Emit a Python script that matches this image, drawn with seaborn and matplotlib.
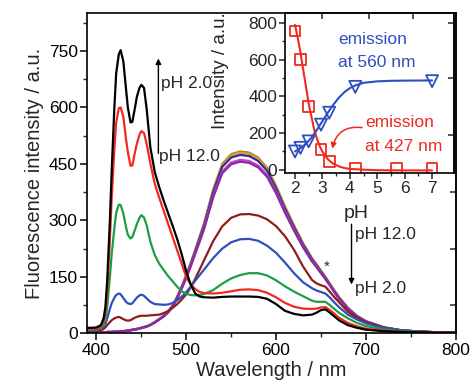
import matplotlib
matplotlib.use("Agg")
import matplotlib.pyplot as plt
import seaborn as sns
import pandas as pd

# ---------------- data ----------------
wavelength = [390, 395, 400, 405, 408, 410, 412, 415, 417, 420,
              422, 425, 427, 430, 433, 435, 438, 440, 443, 445,
              448, 450, 453, 456, 460, 465, 470, 475, 480, 485,
              490, 495, 500, 505, 510, 515, 520, 530, 540, 550,
              560, 570, 580, 590, 600, 610, 620, 630, 640, 645,
              650, 655, 660, 665, 670, 680, 690, 700, 720, 740,
              760, 780, 800]

black = [15, 15, 16, 22, 40, 70, 140, 300, 430, 600,
         690, 742, 752, 722, 648, 600, 560, 562, 600, 628,
         652, 660, 652, 595, 495, 428, 388, 352, 318, 285,
         250, 210, 165, 130, 106, 98, 96, 95, 97, 98,
         98, 98, 97, 92, 78, 60, 52, 48, 50, 55,
         62, 64, 55, 45, 35, 22, 15, 10, 6, 4,
         3, 2, 2]

red = [12, 12, 13, 18, 32, 55, 110, 250, 360, 490,
       560, 598, 600, 575, 515, 482, 445, 446, 482, 503,
       528, 537, 532, 503, 452, 397, 360, 325, 290, 255,
       220, 185, 150, 130, 118, 110, 107, 106, 108, 112,
       116, 117, 115, 108, 96, 81, 71, 66, 65, 66,
       69, 70, 62, 52, 42, 28, 19, 13, 7, 4,
       3, 3, 2]

green = [10, 10, 11, 14, 22, 35, 70, 150, 210, 280,
         320, 342, 341, 318, 282, 262, 252, 256, 276, 290,
         307, 314, 308, 287, 244, 208, 185, 168, 152, 138,
         124, 112, 105, 102, 101, 102, 105, 115, 132, 146,
         155, 160, 160, 154, 141, 125, 111, 99, 87, 84,
         84, 84, 75, 65, 55, 40, 28, 20, 10, 6,
         4, 3, 2]

blue = [8, 8, 9, 12, 18, 25, 40, 65, 80, 95,
        102, 106, 104, 94, 84, 80, 78, 80, 89, 95,
        101, 103, 100, 93, 84, 78, 77, 76, 77, 81,
        88, 98, 110, 124, 140, 155, 170, 200, 225, 242,
        250, 251, 246, 233, 214, 188, 160, 136, 120, 114,
        110, 106, 95, 82, 70, 50, 37, 27, 14, 8,
        5, 3, 2]

wine = [5, 5, 6, 8, 12, 16, 22, 30, 35, 40,
        42, 44, 42, 38, 35, 34, 35, 38, 42, 44,
        46, 47, 47, 47, 48, 49, 50, 54, 60, 68,
        78, 90, 104, 122, 145, 170, 195, 245, 284, 307,
        316, 317, 313, 303, 285, 258, 222, 178, 142, 133,
        128, 124, 110, 96, 83, 58, 41, 30, 15, 8,
        5, 3, 2]

olive = [3, 3, 3, 3, 3, 3, 4, 4, 4, 5,
         5, 5, 6, 6, 7, 8, 9, 10, 11, 12,
         14, 15, 17, 19, 23, 30, 38, 47, 58, 75,
         98, 125, 155, 187, 222, 258, 294, 382, 450, 476,
         483, 480, 467, 440, 392, 337, 287, 240, 200, 184,
         167, 150, 132, 114, 97, 68, 47, 33, 16, 8,
         5, 3, 2]

orange = [3, 3, 3, 3, 3, 3, 4, 4, 4, 5,
          5, 5, 6, 6, 7, 8, 9, 10, 11, 12,
          14, 15, 17, 19, 23, 30, 38, 47, 58, 75,
          97, 124, 154, 186, 221, 256, 292, 380, 447, 473,
          480, 477, 464, 437, 390, 335, 285, 238, 199, 183,
          166, 149, 131, 113, 96, 67, 46, 32, 16, 8,
          5, 3, 2]

navy = [3, 3, 3, 3, 3, 3, 4, 4, 4, 5,
        5, 5, 6, 6, 7, 8, 9, 10, 11, 12,
        14, 15, 17, 19, 23, 30, 38, 47, 58, 74,
        96, 123, 152, 184, 218, 253, 288, 375, 442, 467,
        474, 471, 458, 432, 385, 331, 282, 236, 197, 181,
        164, 148, 130, 112, 95, 67, 46, 32, 16, 8,
        5, 3, 2]

magenta = [3, 3, 3, 3, 3, 3, 4, 4, 4, 5,
           5, 5, 5, 6, 7, 7, 8, 9, 10, 11,
           13, 14, 16, 18, 22, 29, 37, 45, 56, 72,
           94, 120, 149, 180, 213, 247, 281, 365, 430, 454,
           461, 458, 446, 421, 376, 324, 276, 231, 193, 178,
           161, 145, 128, 110, 93, 66, 45, 32, 16, 8,
           5, 3, 2]

purple = [3, 3, 3, 3, 3, 3, 4, 4, 4, 5,
          5, 5, 5, 6, 7, 7, 8, 9, 10, 11,
          13, 14, 16, 18, 22, 29, 37, 45, 56, 72,
          93, 119, 147, 178, 211, 244, 278, 361, 425, 449,
          456, 453, 441, 416, 372, 320, 273, 229, 191, 176,
          160, 144, 127, 109, 92, 65, 45, 31, 16, 8,
          5, 3, 2]

series_names = ["olive", "orange", "navy", "magenta", "purple",
                "wine", "blue", "green", "red", "black"]
series_values = [olive, orange, navy, magenta, purple,
                 wine, blue, green, red, black]
series_colors = ["#8c8a1e", "#e89a2a", "#2a2f9e", "#d040c8", "#8a2aa0",
                 "#8e1e1a", "#2f4fbf", "#1c9e44", "#f02a20", "#000000"]

# inset data
ph_points = [2.0, 2.2, 2.5, 2.95, 3.25, 4.2, 5.7, 7.0]
em427_points = [756, 601, 346, 109, 45, 8, 8, 8]
ph_tri = [2.0, 2.2, 2.5, 2.95, 3.25, 4.2, 7.0]
em560_points = [100, 120, 155, 246, 311, 452, 483]

fit427_ph = [2.0, 2.1, 2.2, 2.3, 2.4, 2.5, 2.6, 2.7, 2.8, 2.9, 3.0, 3.1,
             3.2, 3.3, 3.4, 3.6, 3.8, 4.0, 4.5, 5.0, 6.0, 7.0]
fit427_val = [790, 720, 640, 545, 455, 360, 290, 220, 170, 130, 100, 77,
              58, 44, 33, 19, 10, 5, 1, -2, -3, -3]
fit560_ph = [2.0, 2.2, 2.4, 2.6, 2.8, 3.0, 3.2, 3.4, 3.6, 3.8, 4.0, 4.2,
             4.5, 5.0, 5.5, 6.0, 7.0]
fit560_val = [100, 118, 142, 175, 218, 265, 312, 355, 393, 423, 445, 460,
              474, 482, 485, 486, 487]

# ---------------- style ----------------
sns.set_theme(style="ticks")
plt.rcParams["font.family"] = ["Liberation Sans", "DejaVu Sans"]
plt.rcParams["axes.linewidth"] = 1.2
plt.rcParams["xtick.major.width"] = 1.1
plt.rcParams["ytick.major.width"] = 1.1
plt.rcParams["xtick.minor.width"] = 1.0
plt.rcParams["ytick.minor.width"] = 1.0

fig = plt.figure(figsize=(4.7, 3.9), dpi=100)
ax = fig.add_axes([0.186, 0.145, 0.7836, 0.821])

for name, vals, col in zip(series_names, series_values, series_colors):
    df = pd.DataFrame({"wl": wavelength, "I": vals})
    sns.lineplot(data=df, x="wl", y="I", ax=ax, color=col, linewidth=1.6,
                 estimator=None, sort=False)

ax.set_xlim(390, 800)
ax.set_ylim(0, 850)
ax.set_xticks([400, 500, 600, 700, 800])
ax.set_xticks([450, 550, 650, 750], minor=True)
ax.set_yticks([0, 150, 300, 450, 600, 750])
ax.set_yticks([75, 225, 375, 525, 675, 825], minor=True)
ax.tick_params(axis="both", which="major", direction="out", length=5,
               labelsize=12.5, pad=2, colors="black")
ax.tick_params(axis="both", which="minor", direction="out", length=3)
ax.set_xlabel("Wavelength / nm", fontsize=14.5, labelpad=2)
ax.set_ylabel("Fluorescence intensity / a.u.", fontsize=14.5, labelpad=3)
for s in ax.spines.values():
    s.set_visible(True)
    s.set_color("black")
sec = ax.secondary_yaxis("right")
sec.set_yticks([75, 225, 375])
sec.tick_params(direction="in", length=4, labelright=False)

# annotations main
ax.annotate("", xy=(469, 730), xytext=(469, 478),
            arrowprops=dict(arrowstyle="-|>", color="black", lw=1.0,
                            mutation_scale=8, shrinkA=0, shrinkB=0))
ax.text(472, 664, "pH 2.0", fontsize=12.5, va="center", ha="left")
ax.text(470, 470, "pH 12.0", fontsize=12.5, va="center", ha="left")
ax.annotate("", xy=(684, 130), xytext=(684, 290),
            arrowprops=dict(arrowstyle="-|>", color="black", lw=1.0,
                            mutation_scale=8, shrinkA=0, shrinkB=0))
ax.text(688, 262, "pH 12.0", fontsize=12.5, va="center", ha="left")
ax.text(688, 120, "pH 2.0", fontsize=12.5, va="center", ha="left")
ax.text(656, 178, "*", fontsize=11, va="center", ha="center")

# ---------------- inset ----------------
ins = fig.add_axes([0.606, 0.556, 0.36, 0.411])
ins.set_facecolor("white")
fit_r = pd.DataFrame({"pH": fit427_ph, "v": fit427_val})
fit_b = pd.DataFrame({"pH": fit560_ph, "v": fit560_val})
sns.lineplot(data=fit_r, x="pH", y="v", ax=ins, color="#f02a20", lw=1.5,
             estimator=None, sort=False)
sns.lineplot(data=fit_b, x="pH", y="v", ax=ins, color="#2f4fbf", lw=1.5,
             estimator=None, sort=False)
sns.scatterplot(x=ph_points, y=em427_points, ax=ins, marker="s", s=60,
                facecolors="none", edgecolor="#f02a20", linewidth=1.3)
sns.scatterplot(x=ph_tri, y=em560_points, ax=ins, marker="v", s=75,
                facecolors="none", edgecolor="#2f4fbf", linewidth=1.3)
ins.set_xlim(1.63, 7.8)
ins.set_ylim(-18, 855)
ins.set_xticks([2, 3, 4, 5, 6, 7])
ins.set_xticks([2.5, 3.5, 4.5, 5.5, 6.5], minor=True)
ins.set_yticks([0, 200, 400, 600, 800])
ins.set_yticks([100, 300, 500, 700], minor=True)
ins.tick_params(axis="both", which="major", direction="out", length=4,
                labelsize=12.5, pad=1.5)
ins.tick_params(axis="both", which="minor", direction="out", length=2.5)
ins.set_xlabel("pH", fontsize=14, fontweight="normal")
ins.set_ylabel("Intensity / a.u.", fontsize=13.5)
ins.xaxis.set_label_coords(0.42, -0.2)
ins.yaxis.set_label_coords(-0.33, 0.64)
for s in ins.spines.values():
    s.set_visible(True)
    s.set_color("black")
isec = ins.secondary_yaxis("right")
isec.set_yticks([190, 500, 800])
isec.tick_params(direction="in", length=4, labelright=False)
itop = ins.secondary_xaxis("top")
itop.set_xticks([3.0, 4.7, 6.3])
itop.tick_params(direction="in", length=4, labeltop=False)

ins.text(3.57, 710, "emission", color="#2f4fbf", fontsize=12.5,
         va="center", ha="left")
ins.text(3.57, 585, "at 560 nm", color="#2f4fbf", fontsize=12.5,
         va="center", ha="left")
ins.text(4.55, 257, "emission", color="#f02a20", fontsize=12.5,
         va="center", ha="left")
ins.text(4.55, 126, "at 427 nm", color="#f02a20", fontsize=12.5,
         va="center", ha="left")
ins.annotate("", xy=(3.36, 115), xytext=(4.45, 230),
             arrowprops=dict(arrowstyle="-|>", color="#f02a20", lw=1.1,
                             mutation_scale=8,
                             connectionstyle="arc3,rad=0.45",
                             shrinkA=0, shrinkB=0))

fig.savefig("out.png", dpi=100)
